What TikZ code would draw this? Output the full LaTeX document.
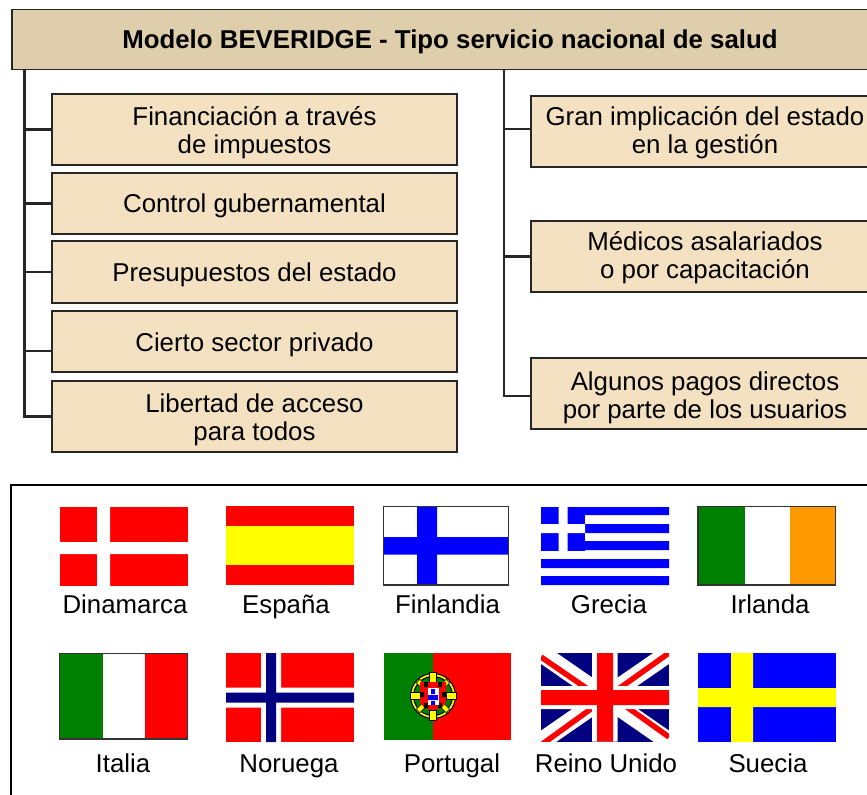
\documentclass[tikz,border=0pt]{standalone}
\usepackage{fontspec}
\setmainfont{Liberation Sans}
\definecolor{titlefill}{HTML}{DFCEAC}
\definecolor{boxfill}{HTML}{F4E1C1}
\definecolor{navy}{HTML}{000080}
\definecolor{flaggreen}{HTML}{008000}
\definecolor{flagorange}{HTML}{FF9900}
\definecolor{flagyellow}{HTML}{FFFF00}
\tikzset{
  every node/.style={inner sep=0pt,font=\fontsize{14.7pt}{15.9pt}\selectfont,align=center},
  leaf/.style={draw=black!85,line width=1.1pt,fill=boxfill,minimum width=8.1cm},
  leafr/.style={leaf,minimum width=7.2cm,anchor=west},
  txt/.style={anchor=base},
  wire/.style={draw=black!85,line width=1.2pt},
  border/.style={draw=black!80,line width=1pt}
}
\begin{document}
\begin{tikzpicture}[x=0.02cm,y=-0.02cm]
      \useasboundingbox (0,0) rectangle (867,795);

      \node[draw=black!85,line width=1.1pt,fill=titlefill,minimum width=17.4cm,minimum height=1.2cm,anchor=west] (T) at (11,39.5) {};
      \node[txt,font=\fontsize{14.7pt}{15.9pt}\selectfont\bfseries] (Tt) at (450,48.3) {Modelo BEVERIDGE - Tipo servicio nacional de salud};

      \node[leaf,minimum height=1.42cm] (L1) at (254.5,129.5) {};
      \node (L1t) at (254.5,133) {Financiación a través\\de impuestos};
      \node[leaf,minimum height=1.22cm] (L2) at (254.5,203.5) {};
      \node[txt] (L2t) at (254.5,212) {Control gubernamental};
      \node[leaf,minimum height=1.24cm] (L3) at (254.5,272) {};
      \node[txt] (L3t) at (254.5,281) {Presupuestos del estado};
      \node[leaf,minimum height=1.22cm] (L4) at (254.5,341.5) {};
      \node[txt] (L4t) at (254.5,351.5) {Cierto sector privado};
      \node[leaf,minimum height=1.42cm] (L5) at (254.5,416.5) {};
      \node (L5t) at (254.5,420) {Libertad de acceso\\para todos};

      \node[leafr,minimum height=1.42cm] (R1) at (530,131.5) {};
      \node (R1t) at (705,133) {Gran implicación del estado\\en la gestión};
      \node[leafr,minimum height=1.42cm] (R2) at (530,256.5) {};
      \node (R2t) at (705,258) {Médicos asalariados\\o por capacitación};
      \node[leafr,minimum height=1.42cm] (R3) at (530,393.5) {};
      \node (R3t) at (705,397.5) {Algunos pagos directos\\por parte de los usuarios};

      \coordinate (a) at (24.5,69);
      \coordinate (b) at (503.7,69);
      \draw[wire] (a) |- (L1.west);
      \draw[wire] (a) |- (L2.west);
      \draw[wire] (a) |- (L3.west);
      \draw[wire] (a) |- ([yshift=-0.19cm]L4.west);
      \draw[wire] (a) |- (L5.west);
      \draw[wire] (b) |- ([yshift=0.05cm]R1.west);
      \draw[wire] (b) |- (R2.west);
      \draw[wire] (b) |- ([yshift=-0.05cm]R3.west);

      \draw[draw=black,line width=1.2pt,fill=white] (11,800) -- (11,485) -- (875,485);

      % first row
      \fill[red] (60,507) rectangle (188,586);
      \fill[white] (97,507) rectangle (110,586) (60,542) rectangle (188,554);
      \fill[red] (226,506) rectangle (354,585);
      \fill[flagyellow] (226,526) rectangle (354,565);
      \fill[white] (383.5,506.5) rectangle (508.5,585);
      \fill[blue] (417,506.5) rectangle (437,585) (383.5,537) rectangle (508.5,554.5);
      \draw[border] (383.5,506.5) rectangle (508.5,585);
      \fill[blue] (541,507) rectangle (669,515) (541,524) rectangle (669,533) (541,541) rectangle (669,550) (541,559) rectangle (669,568) (541,576) rectangle (669,585);
      \fill[blue] (541,507) rectangle (585,551);
      \fill[white] (558.5,507) rectangle (567.5,551) (541,524) rectangle (585,533);
      \fill[flaggreen] (698,506.5) rectangle (745,585);
      \fill[flagorange] (789.5,506.5) rectangle (835.5,585);
      \draw[border] (698,506.5) rectangle (835.5,585);

      % second row
      \fill[flaggreen] (59.5,653.5) rectangle (102.5,739);
      \fill[red] (144.5,653.5) rectangle (187.5,739);
      \draw[border] (59.5,653.5) rectangle (187.5,739);
      \fill[red] (226,653) rectangle (354,742);
      \fill[white] (261,653) rectangle (281,742) (226,687.5) rectangle (354,707.5);
      \fill[navy] (266,653) rectangle (276,742) (226,692.5) rectangle (354,702.5);
      \fill[flaggreen] (384,653) rectangle (433,740);
      \fill[red] (433,653) rectangle (511,740);
      \fill[flagyellow,draw=black,line width=0.6pt] (433,696) circle (22.5);
      \fill[flaggreen,draw=black,line width=0.6pt] (433,696) circle (19.5);
      \filldraw[flagyellow,draw=black,line width=0.3pt] (429.5,672) rectangle (436.5,682) (429.5,710) rectangle (436.5,720) (410,692.5) rectangle (420,699.5) (446,692.5) rectangle (456,699.5);
      \filldraw[flagyellow,draw=black,line width=0.3pt,rotate around={45:(433,696)}] (430.5,675) rectangle (435.5,683) (430.5,709) rectangle (435.5,717) (412,693.5) rectangle (420,698.5) (446,693.5) rectangle (454,698.5);
      \fill[red] (420,682) -- (446,682) -- (446,700) .. controls (446,707) and (438,710) .. (433,710) .. controls (428,710) and (420,707) .. (420,700) -- cycle;
      \fill[black] (424,682) rectangle (428,687) (438,682) rectangle (442,687) (420,692) rectangle (424,697) (442,692) rectangle (446,697) (424,703) rectangle (428,708) (438,703) rectangle (442,708);
      \fill[white] (427.5,688) rectangle (438.5,705);
      \fill[blue] (431,689) rectangle (435,694) (428,695) rectangle (431.5,700) (434.5,695) rectangle (438,700) (431,695) rectangle (435,700) (431,701) rectangle (435,705);

      \begin{scope}
        \clip (541,653) rectangle (669,741.5);
        \fill[navy] (541,653) rectangle (669,741.5);
        \draw[white,line width=0.36cm] (541,653) -- (669,741.5) (541,741.5) -- (669,653);
        \draw[red,line width=0.11cm] (541,657) -- (595,694) (617,700) -- (669,737);
        \draw[red,line width=0.11cm] (541,745) -- (595,706) (617,690) -- (669,653);
        \fill[white] (592,653) rectangle (617.5,741.5) (541,686) rectangle (669,709);
        \fill[red] (597,653) rectangle (613,741.5) (541,690) rectangle (669,705);
      \end{scope}
      \fill[blue] (698,653) rectangle (836,742);
      \fill[flagyellow] (731,653) rectangle (753,742) (698,688) rectangle (836,707);

      \node[txt] (D) at (125,613.5) {Dinamarca};
      \node[txt] (E) at (286,613.5) {España};
      \node[txt] (F) at (447.5,613.5) {Finlandia};
      \node[txt] (G) at (609,613.5) {Grecia};
      \node[txt] (I) at (770,613.5) {Irlanda};
      \node[txt] (It) at (123,772.5) {Italia};
      \node[txt] (N) at (289,772.5) {Noruega};
      \node[txt] (P) at (452,772.5) {Portugal};
      \node[txt] (U) at (606,772.5) {Reino Unido};
      \node[txt] (S) at (768,772.5) {Suecia};
\end{tikzpicture}
\end{document}
